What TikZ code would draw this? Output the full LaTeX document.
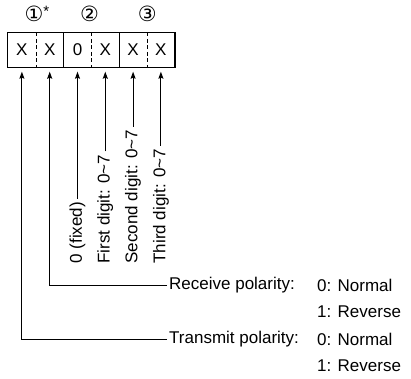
\documentclass[tikz,border=0pt]{standalone}
\usepackage{fontspec}
\setmainfont{Liberation Sans}
\newfontfamily\circfont{DejaVu Sans}
\usetikzlibrary{arrows.meta, positioning, calc}

\begin{document}
\begin{tikzpicture}[
    x=1pt, y=-1pt,
    font=\fontsize{17}{20}\selectfont,
    cell/.style={inner sep=0pt, minimum width=27.8pt, minimum height=35pt},
    boxline/.style={line width=1.1pt},
    grp/.style={inner sep=0pt, font=\circfont\fontsize{21}{24}\selectfont},
    vlabel/.style={rotate=90, anchor=west, inner sep=3pt},
    plabel/.style={anchor=west, inner sep=2pt},
    arr/.style={line width=1pt, -{Stealth[length=7pt, width=5pt, inset=1pt]}},
]
\useasboundingbox (0,0) rectangle (411,378);

% ===== Layout =====
\def\cellw{27.8}
\def\boxl{8}
\def\boxy{50}  % center line of the code box

% ===== Code cells =====
\foreach \i/\d in {1/X, 2/X, 3/0, 4/X, 5/X, 6/X} {
    \node[cell] (c\i) at ({\boxl + (\i - 0.5)*\cellw}, \boxy) {\d};
    \coordinate (tip\i) at ($(c\i.south) + (0,4)$);
}

% outer frame, solid group dividers, dashed digit dividers
\draw[boxline] (c1.north west) rectangle (c6.south east);
\foreach \i in {2,4} {
    \draw[boxline] (c\i.north east) -- (c\i.south east);
}
\foreach \i in {1,3,5} {
    \draw[line width=0.9pt, dash pattern=on 4pt off 2.5pt] (c\i.north east) -- (c\i.south east);
}

% ===== Group numbers =====
\node[grp] (g1) at ($(c1.north east) + (1,-18)$) {①\raisebox{0.45ex}{\rmfamily\fontsize{15}{15}\selectfont *}};
\node[grp] (g2) at ($(c3.north east) + (-2,-18)$) {②};
\node[grp] (g3) at ($(c5.north east) + (0,-18)$) {③};

% ===== Digit ranges (rotated) =====
\foreach \i/\t in {3/0 (fixed), 4/First digit: 0\textasciitilde 7,
                   5/Second digit: 0\textasciitilde 7, 6/Third digit: 0\textasciitilde 7} {
    \node[vlabel] (v\i) at ($(c\i.south) + (0,199)$) {\t};
    \draw[arr] (v\i.east) -- (tip\i);
}

% ===== Polarity =====
\node[plabel] (rx) at (167, 285) {Receive polarity:};
\node[plabel] (rx0) at (315, 285) {0: Normal};
\node[plabel] (rx1) at ($(rx0.west) + (0,27)$) {1: Reverse};
\draw[arr] (rx.west) -| (tip2);

\node[plabel] (tx) at (167, 339) {Transmit polarity:};
\node[plabel] (tx0) at (315, 339) {0: Normal};
\node[plabel] (tx1) at ($(tx0.west) + (0,27)$) {1: Reverse};
\draw[arr] (tx.west) -| (tip1);

\end{tikzpicture}
\end{document}
